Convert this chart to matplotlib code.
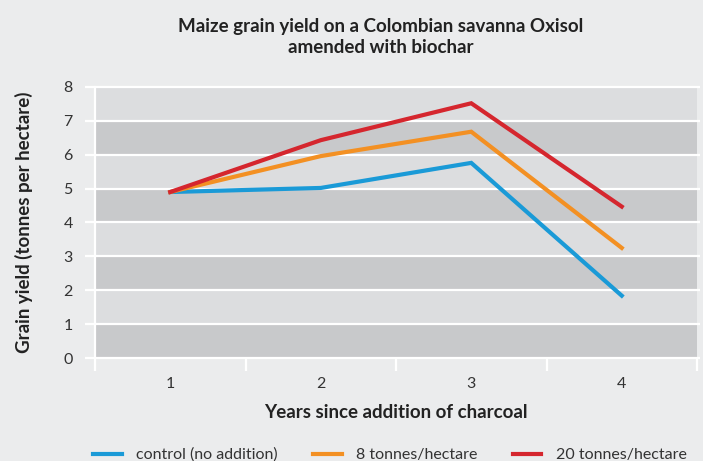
import matplotlib
matplotlib.use('Agg')
import matplotlib.pyplot as plt

years = [1, 2, 3, 4]
control = [4.9, 5.02, 5.76, 1.84]
biochar_8 = [4.9, 5.96, 6.68, 3.25]
biochar_20 = [4.9, 6.43, 7.52, 4.47]
series_names = ['control (no addition)', '8 tonnes/hectare', '20 tonnes/hectare']
colors = ['#1a9ad7', '#f39023', '#d5262e']

plt.rcParams['font.family'] = ['Lato', 'DejaVu Sans']

bg = '#ebeced'
fig = plt.figure(figsize=(7.03, 4.61), dpi=100, facecolor=bg)
ax = fig.add_axes([95 / 703, 103 / 461, 602 / 703, 271 / 461])
ax.set_facecolor(bg)

# alternating bands
for i in range(8):
    ax.axhspan(i, i + 1, color='#c8c9cb' if i % 2 == 0 else '#dcdddf', lw=0, zorder=0)

ax.set_xlim(0.5, 4.5)
ax.set_ylim(0, 8)

tr = ax.get_yaxis_transform()
ax.hlines(range(9), -0.017, 1.005, transform=tr, colors='white', lw=1.6, clip_on=False, zorder=1)

for vals, name, c in zip([control, biochar_8, biochar_20], series_names, colors):
    ax.plot(years, vals, color=c, lw=3, label=name, zorder=3, solid_joinstyle='miter')

for s in ['top', 'right', 'bottom']:
    ax.spines[s].set_visible(False)
ax.spines['left'].set_color('white')
ax.spines['left'].set_linewidth(1.6)
ax.spines['left'].set_bounds(0, 8)

ax.set_xticks(years)
ax.set_xticks([0.5, 1.5, 2.5, 3.5, 4.5], minor=True)
ax.tick_params(axis='x', which='major', length=0, pad=14, labelsize=11.5, labelcolor='#333333')
ax.tick_params(axis='x', which='minor', length=9, width=1.6, color='white')
ax.set_yticks(range(9))
ax.tick_params(axis='y', length=0, pad=16, labelsize=11.5, labelcolor='#333333')

ax.set_xlabel('Years since addition of charcoal', fontsize=13.5, fontweight='bold', color='#222222', labelpad=9)
ax.set_ylabel('Grain yield (tonnes per hectare)', fontsize=13.5, fontweight='bold', color='#222222', labelpad=22)

fig.text(381 / 703, 1 - 37 / 461, 'Maize grain yield on a Colombian savanna Oxisol\namended with biochar',
         ha='center', va='center', fontsize=13.5, fontweight='bold', color='#222222', linespacing=1.25)

fig.legend(loc='center left', bbox_to_anchor=(93 / 703, 1 - 455 / 461), ncol=3, frameon=False,
           fontsize=11.5, handlelength=1.8, handletextpad=0.9, columnspacing=2.2,
           labelcolor='#333333', borderaxespad=0, borderpad=0)

fig.savefig('out.png', dpi=100, facecolor=bg)
